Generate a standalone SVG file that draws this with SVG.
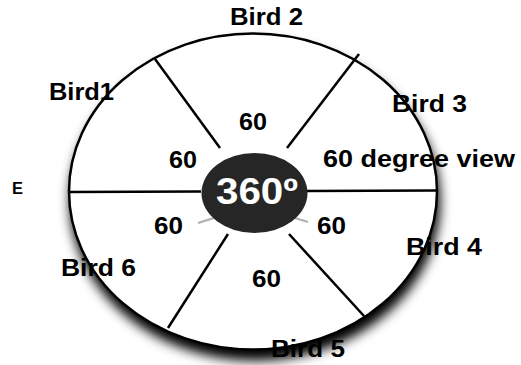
<svg xmlns="http://www.w3.org/2000/svg" width="521" height="365" viewBox="0 0 521 365">
  <defs>
    <filter id="shadow" x="-20%" y="-20%" width="140%" height="150%">
      <feGaussianBlur in="SourceAlpha" stdDeviation="6"/>
      <feOffset dx="2" dy="10" result="b"/>
      <feComponentTransfer><feFuncA type="linear" slope="1"/></feComponentTransfer>
      <feMerge><feMergeNode/><feMergeNode in="SourceGraphic"/></feMerge>
    </filter>
    <filter id="soft" x="-5%" y="-5%" width="110%" height="110%">
      <feGaussianBlur stdDeviation="0.5"/>
    </filter>
  </defs>
  <style>
    .lbl { font-family: "Liberation Sans", Arial, sans-serif; font-weight: bold; font-size: 24px; fill: #000; }
    .num { font-family: "Liberation Sans", Arial, sans-serif; font-weight: bold; font-size: 23px; fill: #000; }
    .spoke { stroke: #000; stroke-width: 2.5; fill: none; stroke-linecap: butt; }
  </style>
  <rect width="521" height="365" fill="#fff"/>
  <g id="disc">
    <ellipse cx="253" cy="191.5" rx="184" ry="158" fill="#fff" stroke="#000" stroke-width="2.5" filter="url(#shadow)"/>
  </g>
  <g id="connectors">
    <line class="spoke" x1="155" y1="59" x2="220" y2="148"/>
    <line class="spoke" x1="359" y1="54" x2="287" y2="148"/>
    <line class="spoke" x1="69" y1="192" x2="201" y2="191.5"/>
    <line class="spoke" x1="306" y1="191" x2="438" y2="190.5"/>
    <line class="spoke" x1="228" y1="234" x2="168" y2="328"/>
    <line class="spoke" x1="289" y1="234" x2="364" y2="316"/>
  </g>
  <g id="center">
    <path d="M198,223 Q254,203 308,222" fill="none" stroke="#b0b0b0" stroke-width="2"/>
    <ellipse cx="254.5" cy="193" rx="53" ry="40" fill="#262626" filter="url(#soft)"/>
    <text x="216" y="204" font-family="Liberation Sans, Arial, sans-serif" font-weight="bold" font-size="37" fill="#fff" textLength="82" lengthAdjust="spacingAndGlyphs">360º</text>
  </g>
  <g id="bird1"><text class="lbl" x="49" y="100" textLength="65" lengthAdjust="spacingAndGlyphs">Bird1</text></g>
  <g id="bird2"><text class="lbl" x="230" y="25" textLength="73" lengthAdjust="spacingAndGlyphs">Bird 2</text></g>
  <g id="bird3"><text class="lbl" x="392" y="112" textLength="75" lengthAdjust="spacingAndGlyphs">Bird 3</text></g>
  <g id="bird4"><text class="lbl" x="406" y="255" textLength="76" lengthAdjust="spacingAndGlyphs">Bird 4</text></g>
  <g id="bird5"><text class="lbl" x="271" y="357" textLength="74" lengthAdjust="spacingAndGlyphs">Bird 5</text></g>
  <g id="bird6"><text class="lbl" x="61" y="276" textLength="75" lengthAdjust="spacingAndGlyphs">Bird 6</text></g>
  <g id="view"><text class="lbl" x="323" y="167" textLength="192" lengthAdjust="spacingAndGlyphs">60 degree view</text></g>
  <g id="angles">
    <text class="num" x="239" y="130" textLength="28" lengthAdjust="spacingAndGlyphs">60</text>
    <text class="num" x="169" y="168" textLength="28" lengthAdjust="spacingAndGlyphs">60</text>
    <text class="num" x="154" y="234" textLength="29" lengthAdjust="spacingAndGlyphs">60</text>
    <text class="num" x="317" y="234" textLength="29" lengthAdjust="spacingAndGlyphs">60</text>
    <text class="num" x="252" y="287" textLength="29" lengthAdjust="spacingAndGlyphs">60</text>
  </g>
  <g id="e"><text x="12" y="194" font-family="Liberation Sans, Arial, sans-serif" font-weight="bold" font-size="17" textLength="11" lengthAdjust="spacingAndGlyphs">E</text></g>
</svg>
